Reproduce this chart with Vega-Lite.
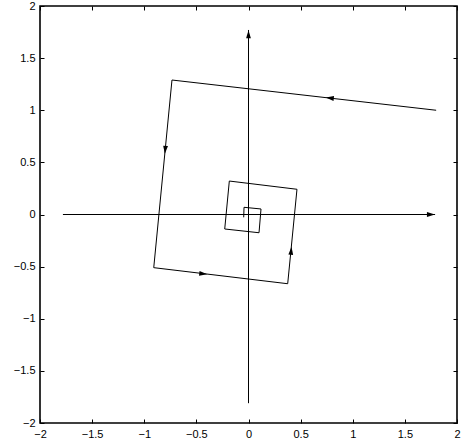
{
  "$schema": "https://vega.github.io/schema/vega-lite/v6.json",
  "width": 417,
  "height": 417,
  "autosize": "none",
  "padding": {"left": 40, "top": 6, "right": 5, "bottom": 20},
  "background": "white",
  "config": {
    "view": {"stroke": "black", "strokeWidth": 1.6},
    "axis": {
      "grid": false,
      "domain": false,
      "title": null,
      "labelFont": "Liberation Sans",
      "labelFontSize": 11,
      "labelColor": "black",
      "tickColor": "black",
      "tickSize": -4,
      "tickWidth": 1,
      "labelPadding": 9,
      "labelFlush": false,
      "labelOverlap": false,
      "values": [-2, -1.5, -1, -0.5, 0, 0.5, 1, 1.5, 2],
      "format": "~g"
    }
  },
  "datasets": {
    "spiral": [
      {"i": 0, "x": 1.8, "y": 1.0},
      {"i": 1, "x": -0.734, "y": 1.29},
      {"i": 2, "x": -0.909, "y": -0.51},
      {"i": 3, "x": 0.376, "y": -0.664},
      {"i": 4, "x": 0.465, "y": 0.242},
      {"i": 5, "x": -0.184, "y": 0.321},
      {"i": 6, "x": -0.228, "y": -0.139},
      {"i": 7, "x": 0.101, "y": -0.175},
      {"i": 8, "x": 0.12, "y": 0.053},
      {"i": 9, "x": -0.043, "y": 0.069},
      {"i": 10, "x": -0.046, "y": -0.027}
    ],
    "axes": [
      {"x": -1.78, "y": 0, "x2": 1.79, "y2": 0},
      {"x": 0, "y": -1.81, "x2": 0, "y2": 1.77}
    ],
    "arrows": [
      {"x": 0.78, "y": 1.117, "ang": 276.5},
      {"x": -0.799, "y": 0.62, "ang": 185.5},
      {"x": -0.434, "y": -0.569, "ang": 96.8},
      {"x": 0.409, "y": -0.347, "ang": 5.6},
      {"x": 1.75, "y": 0, "ang": 90},
      {"x": 0, "y": 1.73, "ang": 0}
    ]
  },
  "layer": [
    {
      "data": {"name": "spiral"},
      "mark": {"type": "line", "color": "black", "strokeWidth": 1},
      "encoding": {
        "x": {"field": "x", "type": "quantitative", "scale": {"domain": [-2, 2], "nice": false, "zero": false}, "axis": {"orient": "bottom"}},
        "y": {"field": "y", "type": "quantitative", "scale": {"domain": [-2, 2], "nice": false, "zero": false}, "axis": {"orient": "left"}},
        "order": {"field": "i", "type": "quantitative"}
      }
    },
    {
      "data": {"name": "axes"},
      "mark": {"type": "rule", "color": "black", "strokeWidth": 1},
      "encoding": {
        "x": {"field": "x", "type": "quantitative", "axis": {"orient": "top", "labels": false}},
        "y": {"field": "y", "type": "quantitative", "axis": {"orient": "right", "labels": false}},
        "x2": {"field": "x2"},
        "y2": {"field": "y2"}
      }
    },
    {
      "data": {"name": "arrows"},
      "mark": {"type": "point", "shape": "M0,-1L0.6,1L-0.6,1Z", "filled": true, "color": "black", "opacity": 1, "size": 64, "strokeWidth": 0},
      "encoding": {
        "x": {"field": "x", "type": "quantitative", "axis": null},
        "y": {"field": "y", "type": "quantitative", "axis": null},
        "angle": {"field": "ang", "type": "quantitative", "scale": null}
      }
    }
  ],
  "resolve": {"axis": {"x": "independent", "y": "independent"}}
}
